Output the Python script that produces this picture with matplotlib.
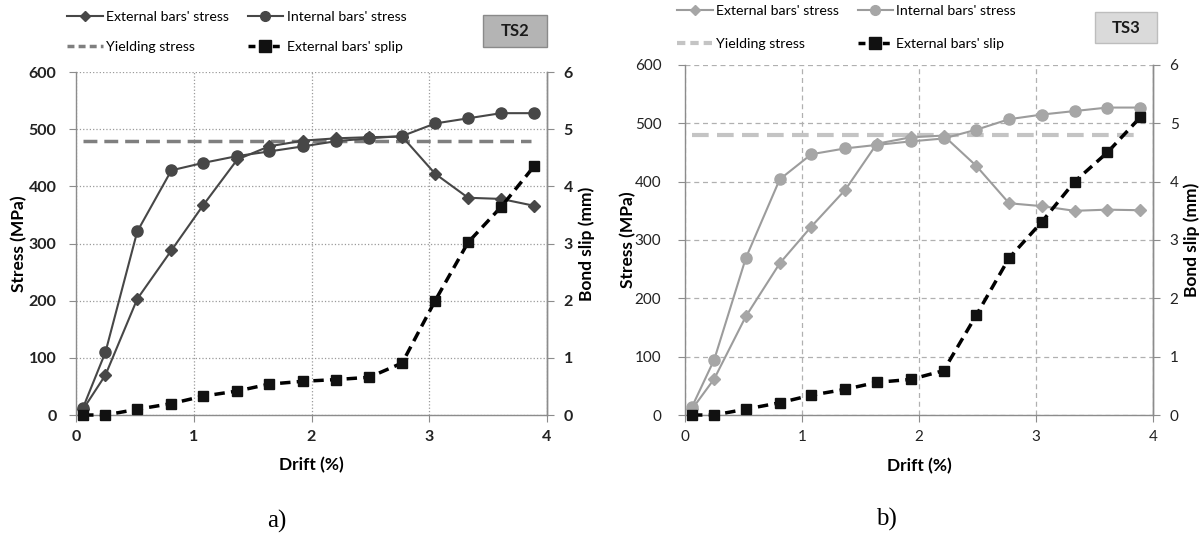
import matplotlib
matplotlib.use("Agg")
import matplotlib.pyplot as plt
from matplotlib.lines import Line2D
from matplotlib.patches import Rectangle

# drift steps (%), same for both tests
drift = [0.06, 0.25, 0.52, 0.81, 1.08, 1.37, 1.64, 1.93, 2.21, 2.49, 2.77, 3.05, 3.33, 3.61, 3.89]

# TS2
ts2_ext = [10, 70, 203, 288, 367, 447, 470, 480, 484, 486, 487, 422, 380, 378, 366]
ts2_int = [13, 110, 321, 428, 441, 453, 461, 470, 479, 484, 488, 510, 519, 528, 528]
ts2_slip = [0.0, 0.0, 0.1, 0.2, 0.33, 0.42, 0.54, 0.59, 0.62, 0.66, 0.91, 2.0, 3.02, 3.64, 4.35]

# TS3
ts3_ext = [10, 62, 169, 260, 323, 386, 465, 476, 479, 427, 363, 358, 350, 352, 351]
ts3_int = [14, 95, 269, 404, 447, 457, 463, 469, 474, 489, 507, 515, 521, 527, 527]
ts3_slip = [0.0, 0.0, 0.1, 0.21, 0.34, 0.44, 0.56, 0.61, 0.76, 1.71, 2.69, 3.31, 4.0, 4.5, 5.1]

yielding = 480
yield_x = [0.06, 3.86]

stress_ticks = [0, 100, 200, 300, 400, 500, 600]
slip_ticks = [0, 1, 2, 3, 4, 5, 6]
drift_ticks = [0, 1, 2, 3, 4]

FONT = "Lato"
plt.rcParams["font.family"] = [FONT, "DejaVu Sans"]

fig = plt.figure(figsize=(12.03, 5.41), dpi=100)


def panel(rect, ext, intl, slip, style):
    ax = fig.add_axes(rect)
    ax2 = ax.twinx()
    line_c = style["line"]
    ax.plot(drift, ext, color=line_c, lw=1.5, marker="D", ms=style["dms"],
            mfc=style["mark"], mec=style["mark"], zorder=3, clip_on=False)
    ax.plot(drift, intl, color=line_c, lw=1.5, marker="o", ms=style["cms"],
            mfc=style["mark"], mec=style["mark"], zorder=3, clip_on=False)
    ax.plot(yield_x, [yielding, yielding], color=style["yield"], lw=style["ylw"],
            ls=(0, (4, 2)), zorder=2)
    ax2.plot(drift, slip, color="black", lw=2.5, ls=(0, (3, 1.8)), marker="s",
             ms=7.5, mfc="#111111", mec="#111111", zorder=3, clip_on=False)

    ax.set_xlim(0, 4)
    ax.set_ylim(0, 600)
    ax2.set_ylim(0, 6)
    ax.set_xticks(drift_ticks)
    ax.set_yticks(stress_ticks)
    ax2.set_yticks(slip_ticks)

    ax.grid(True, color=style["grid"], ls=style["gls"], lw=0.9)
    ax.set_axisbelow(True)

    for a in (ax, ax2):
        a.spines["top"].set_visible(False)
        for s in ("left", "right", "bottom"):
            a.spines[s].set_color("#8c8c8c")
            a.spines[s].set_linewidth(1.0)
    ax2.spines["left"].set_visible(False)
    ax2.spines["bottom"].set_visible(False)

    fw = style["tickweight"]
    ax.tick_params(axis="y", length=5, color="#8c8c8c", pad=style["ypad"],
                   labelsize=style["tsize"], labelcolor="#222222")
    ax.tick_params(axis="x", length=5, color="#8c8c8c", pad=6,
                   labelsize=style["tsize"], labelcolor="#222222")
    ax2.tick_params(axis="y", length=5, color="#8c8c8c", pad=7,
                    labelsize=style["tsize"], labelcolor="#222222")
    for lab in ax.get_xticklabels() + ax.get_yticklabels() + ax2.get_yticklabels():
        lab.set_fontweight(fw)

    ax.set_xlabel("Drift (%)", fontsize=12.5, fontweight="bold")
    ax.set_ylabel("Stress (MPa)", fontsize=12.5, fontweight="bold")
    ax2.set_ylabel("Bond slip (mm)", fontsize=12.5, fontweight="bold", rotation=90)
    ax.xaxis.set_label_coords(0.5, -0.122)
    ax.yaxis.set_label_coords(-0.104, 0.5)
    ax2.yaxis.set_label_coords(1.066, 0.5)

    handles = [
        Line2D([], [], color=line_c, lw=1.5, marker="D", ms=5, mfc=style["mark"], mec=style["mark"]),
        Line2D([], [], color=style["yield"], lw=style["ylw"], ls=(0, (2, 1.2))),
        Line2D([], [], color=line_c, lw=1.5, marker="o", ms=7, mfc=style["mark"], mec=style["mark"]),
        Line2D([], [], color="black", lw=2.5, ls=(0, (2, 1.5)), marker="s", ms=8, mfc="#111111", mec="#111111"),
    ]
    labels = ["External bars' stress", "Yielding stress",
              "Internal bars' stress", style["sliplabel"]]
    fig.legend(handles, labels, loc="upper left", bbox_to_anchor=style["legpos"],
               ncol=2, frameon=False, fontsize=10.2, handlelength=2.5,
               handletextpad=0.25, columnspacing=1.3, labelspacing=style["lsp"],
               borderpad=0, borderaxespad=0, numpoints=1)

    bx, by, bw, bh = style["box"]
    fig.patches.append(Rectangle((bx, by), bw, bh, transform=fig.transFigure,
                                 facecolor=style["boxfc"], edgecolor=style["boxec"], lw=1.0))
    fig.text(bx + bw / 2, by + bh / 2, style["name"], ha="center", va="center",
             fontsize=12, fontweight="bold", color="#1a1a1a")
    fig.text(style["cap"][0], style["cap"][1], style["caption"], ha="center", va="center",
             fontsize=18, family="Liberation Serif")
    return ax


panel([0.0632, 0.2329, 0.3915, 0.634], ts2_ext, ts2_int, ts2_slip, {
    "line": "#474747", "mark": "#474747", "dms": 6.5, "cms": 8,
    "yield": "#7f7f7f", "ylw": 2.5, "grid": "#9a9a9a", "gls": ":",
    "tickweight": "bold", "tsize": 11.5, "ypad": 9,
    "sliplabel": "External bars' splip", "legpos": (0.056, 0.98), "lsp": 1.25,
    "box": (0.4015, 0.9131, 0.0532, 0.0591), "boxfc": "#b4b4b4", "boxec": "#8a8a8a",
    "name": "TS2", "cap": (0.2303, 0.037), "caption": "a)",
})

panel([0.5694, 0.2329, 0.389, 0.647], ts3_ext, ts3_int, ts3_slip, {
    "line": "#9c9c9c", "mark": "#a6a6a6", "dms": 6.5, "cms": 8,
    "yield": "#c4c4c4", "ylw": 3, "grid": "#b0b0b0", "gls": (0, (4, 3)),
    "tickweight": "normal", "tsize": 11, "ypad": 12,
    "sliplabel": "External bars' slip", "legpos": (0.563, 0.99), "lsp": 1.45,
    "box": (0.9102, 0.9205, 0.0515, 0.0573), "boxfc": "#dadada", "boxec": "#bdbdbd",
    "name": "TS3", "cap": (0.7373, 0.040), "caption": "b)",
})

fig.savefig("out.png", dpi=100)
